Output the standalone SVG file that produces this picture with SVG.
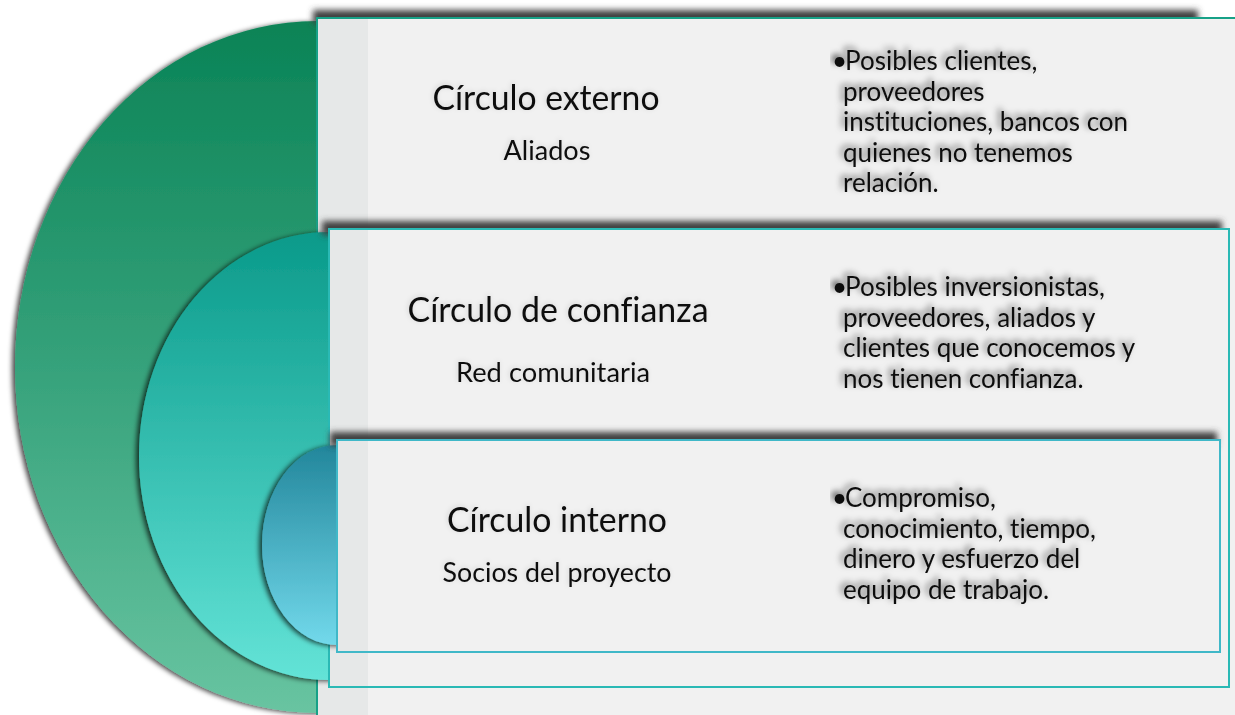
<svg xmlns="http://www.w3.org/2000/svg" width="1235" height="715" viewBox="0 0 1235 715">
<defs>
<linearGradient id="g1" x1="0" y1="0" x2="0" y2="1">
<stop offset="0" stop-color="#0a8356"/>
<stop offset="0.5" stop-color="#36a27b"/>
<stop offset="1" stop-color="#68c4a1"/>
</linearGradient>
<linearGradient id="g2" x1="0" y1="0" x2="0" y2="1">
<stop offset="0" stop-color="#0a9a8a"/>
<stop offset="1" stop-color="#63e3d7"/>
</linearGradient>
<linearGradient id="g3" x1="0" y1="0" x2="0" y2="1">
<stop offset="0" stop-color="#22869b"/>
<stop offset="1" stop-color="#72d9eb"/>
</linearGradient>
<filter id="arcsh" x="-20%" y="-20%" width="140%" height="140%">
<feDropShadow dx="-3" dy="1" stdDeviation="2.5" flood-color="#000" flood-opacity="0.7"/>
</filter>
<filter id="blur3" x="-10%" y="-150%" width="120%" height="400%">
<feGaussianBlur stdDeviation="3"/>
</filter>
<filter id="tsh" x="-10%" y="-50%" width="120%" height="200%">
<feGaussianBlur in="SourceAlpha" stdDeviation="3"/>
<feOffset dx="-3" dy="-3" result="b"/>
<feFlood flood-color="#000" flood-opacity="0.6"/>
<feComposite in2="b" operator="in"/>
<feMerge><feMergeNode/><feMergeNode in="SourceGraphic"/></feMerge>
</filter>
<filter id="tsh2" x="-10%" y="-50%" width="120%" height="200%">
<feGaussianBlur in="SourceAlpha" stdDeviation="2.5"/>
<feOffset dx="-1" dy="-1" result="b"/>
<feFlood flood-color="#000" flood-opacity="0.12"/>
<feComposite in2="b" operator="in"/>
<feMerge><feMergeNode/><feMergeNode in="SourceGraphic"/></feMerge>
</filter>
</defs>
<style>
.box{fill:#f1f1f1;stroke-width:2}
.strip{fill:#e6e8e8}
.boxsh{fill:#404040;filter:url(#blur3)}
.arc{filter:url(#arcsh)}
text{font-family:Lato,"Liberation Sans",sans-serif;fill:#111;font-variant-ligatures:none}
.title{font-size:35px;text-anchor:middle;filter:url(#tsh2)}
.sub{font-size:27px;text-anchor:middle;filter:url(#tsh2)}
.bt{font-size:26px;filter:url(#tsh)}
</style>
<rect x="0" y="0" width="1235" height="715" fill="#ffffff"/>
<g id="connectors"></g>
<g id="node-externo">
<ellipse class="arc" cx="317" cy="367" rx="302" ry="346" fill="url(#g1)"/>
<rect class="boxsh" x="313" y="10" width="885" height="14"/>
<rect class="box" x="317" y="18" width="940" height="720" stroke="#17a187"/>
<rect class="strip" x="318" y="19" width="50" height="700"/>
<text class="title" x="546" y="110" textLength="227" lengthAdjust="spacingAndGlyphs">Círculo externo</text>
<text class="sub" x="547" y="160" textLength="87" lengthAdjust="spacingAndGlyphs">Aliados</text>
<text class="bt" x="832" y="70">•</text>
<text class="bt" x="845" y="70">Posibles clientes,</text>
<text class="bt" x="843" y="100.5">proveedores</text>
<text class="bt" x="843" y="131">instituciones, bancos con</text>
<text class="bt" x="843" y="161.5">quienes no tenemos</text>
<text class="bt" x="843" y="192">relación.</text>
</g>
<g id="node-confianza">
<ellipse class="arc" cx="329" cy="456" rx="190" ry="224" fill="url(#g2)"/>
<rect class="boxsh" x="322" y="221" width="900" height="14"/>
<rect class="box" x="329" y="229" width="900" height="458" stroke="#2ab9b5"/>
<rect class="strip" x="330" y="230" width="38" height="456"/>
<text class="title" x="558" y="322" textLength="301" lengthAdjust="spacingAndGlyphs">Círculo de confianza</text>
<text class="sub" x="553" y="382" textLength="194" lengthAdjust="spacingAndGlyphs">Red comunitaria</text>
<text class="bt" x="832" y="296">•</text>
<text class="bt" x="845" y="296">Posibles inversionistas,</text>
<text class="bt" x="843" y="326.5">proveedores, aliados y</text>
<text class="bt" x="843" y="357">clientes que conocemos y</text>
<text class="bt" x="843" y="387.5">nos tienen confianza.</text>
</g>
<g id="node-interno">
<ellipse class="arc" cx="337" cy="545" rx="75" ry="100" fill="url(#g3)"/>
<rect class="boxsh" x="330" y="432" width="887" height="14"/>
<rect class="box" x="337" y="440" width="883" height="212" stroke="#40b8c8"/>
<rect class="strip" x="338" y="441" width="30" height="210"/>
<text class="title" x="557" y="532" textLength="220" lengthAdjust="spacingAndGlyphs">Círculo interno</text>
<text class="sub" x="557" y="582" textLength="229" lengthAdjust="spacingAndGlyphs">Socios del proyecto</text>
<text class="bt" x="832" y="507">•</text>
<text class="bt" x="845" y="507">Compromiso,</text>
<text class="bt" x="843" y="537.5">conocimiento, tiempo,</text>
<text class="bt" x="843" y="568">dinero y esfuerzo del</text>
<text class="bt" x="843" y="598.5">equipo de trabajo.</text>
</g>
</svg>
